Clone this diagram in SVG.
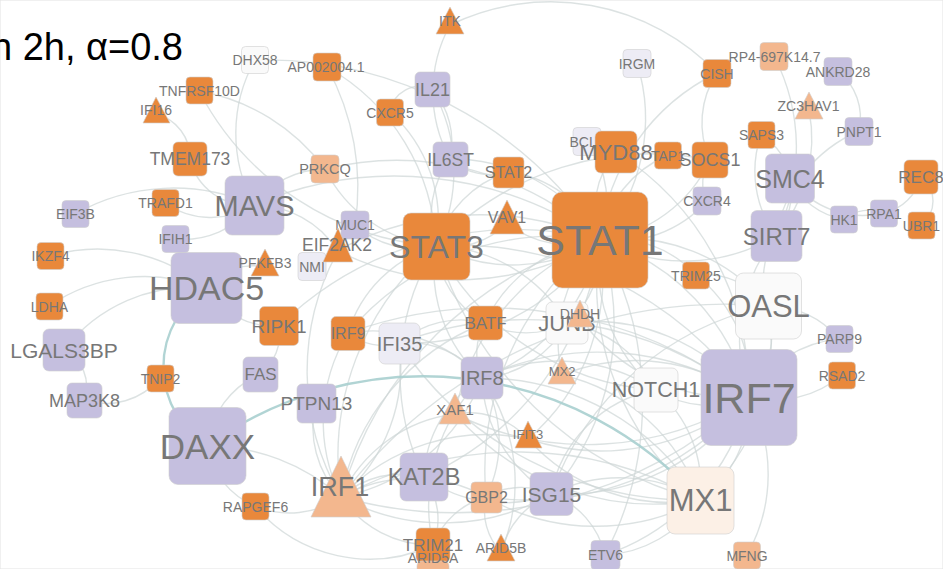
<svg xmlns="http://www.w3.org/2000/svg" width="943" height="569" viewBox="0 0 943 569">
<style>
.e path{fill:none;stroke:#cdd6d5;stroke-width:1.4;stroke-opacity:.7}
.e path.t{stroke:#a9cfcf;stroke-width:2.4;stroke-opacity:.9}
rect,polygon{stroke:#cfcfcf;stroke-width:1;stroke-opacity:.6}
.o{fill:#e9883b}.p{fill:#f3b78e}.l{fill:#c5bfdf}.ll{fill:#edecf5}.w{fill:#fafafa}.m{fill:#fcf0e6}
text{font-family:"Liberation Sans",Arial,Helvetica,sans-serif;fill:#777;text-anchor:middle;dominant-baseline:central}
#nodes{font-size:14px}
#title text{fill:#000;text-anchor:end;dominant-baseline:alphabetic;font-size:38px}
</style>
<rect x="0" y="0" width="943" height="569" fill="#fff" stroke="none"/>
<g id="title"><text x="183" y="60">n 2h, α=0.8</text></g>
<g id="edges" class="e">
<path d="M600 240A165 165 0 0 1 436 246"/><path d="M600 240A115 115 0 0 0 508 172"/><path d="M600 240A370 370 0 0 0 341 497"/><path d="M600 240A220 220 0 0 1 749 397"/><path d="M600 240A185 185 0 0 1 482 378"/><path d="M600 240A270 270 0 0 0 348 333"/><path d="M600 240A90 90 0 0 1 616 152"/><path d="M600 240A140 140 0 0 0 710 160"/><path d="M600 240A210 210 0 0 1 717 73"/><path d="M600 240A185 185 0 0 0 637 63"/><path d="M600 240A260 260 0 0 1 551 494"/><path d="M600 240A280 280 0 0 0 700 500"/><path d="M600 240A185 185 0 0 1 768 306"/><path d="M600 240A145 145 0 0 0 485 323"/><path d="M600 240A95 95 0 0 1 567 323"/><path d="M600 240A230 230 0 0 1 399 343"/><path d="M600 240A300 300 0 0 0 325 169"/><path d="M600 240A175 175 0 0 0 450 159"/><path d="M600 240A100 100 0 0 1 507 223"/><path d="M600 240A110 110 0 0 1 696 275"/><path d="M600 240A120 120 0 0 0 707 201"/><path d="M600 240A165 165 0 0 0 656 390"/><path d="M600 240A290 290 0 0 0 486 497"/><path d="M600 240A215 215 0 0 1 528 439"/><path d="M600 240A230 230 0 0 0 455 414"/><path d="M600 240A145 145 0 0 0 562 375"/><path d="M600 240A400 400 0 0 0 255 60"/><path d="M600 240A270 270 0 0 1 338 251"/><path d="M600 240A115 115 0 0 1 668 155"/><path d="M600 240A105 105 0 0 0 587 141"/><path d="M600 240A180 180 0 0 0 776 236"/><path d="M600 240A300 300 0 0 1 424 477"/><path d="M600 240A330 330 0 0 1 605 555"/>
<path d="M749 397A120 120 0 0 1 700 500"/><path d="M749 397A225 225 0 0 1 551 494"/><path d="M749 397A100 100 0 0 0 768 306"/><path d="M749 397A275 275 0 0 0 482 378"/><path d="M749 397A430 430 0 0 1 341 497"/><path d="M749 397A100 100 0 0 1 656 390"/><path d="M749 397A115 115 0 0 1 839 339"/><path d="M749 397A105 105 0 0 0 842 375"/><path d="M749 397A165 165 0 0 1 747 555"/><path d="M749 397A230 230 0 0 1 528 439"/><path d="M749 397A195 195 0 0 0 562 375"/><path d="M749 397A300 300 0 0 1 455 414"/><path d="M749 397A290 290 0 0 1 486 497"/><path d="M749 397A200 200 0 0 0 567 323"/><path d="M749 397A420 420 0 0 0 348 333"/><path d="M749 397A360 360 0 0 0 399 343"/><path d="M749 397A355 355 0 0 0 436 246"/><path d="M749 397A140 140 0 0 0 696 275"/><path d="M749 397A170 170 0 0 1 776 236"/><path d="M749 397A190 190 0 0 1 580 318"/><path d="M749 397A220 220 0 0 1 605 555"/>
<path d="M700 500A155 155 0 0 0 551 494"/><path d="M700 500A255 255 0 0 0 482 378"/><path d="M700 500A370 370 0 0 0 341 497"/><path d="M700 500A210 210 0 0 0 768 306"/><path d="M700 500A125 125 0 0 0 656 390"/><path d="M700 500A190 190 0 0 1 528 439"/><path d="M700 500A265 265 0 0 1 455 414"/><path d="M700 500A220 220 0 0 1 486 497"/><path d="M700 500A375 375 0 0 1 436 246"/><path d="M700 500A350 350 0 0 1 399 343"/><path d="M700 500A190 190 0 0 0 562 375"/>
<path d="M341 497A190 190 0 0 0 482 378"/><path d="M341 497A170 170 0 0 1 348 333"/><path d="M341 497A170 170 0 0 0 399 343"/><path d="M341 497A275 275 0 0 1 436 246"/><path d="M341 497A90 90 0 0 1 424 477"/><path d="M341 497A215 215 0 0 0 551 494"/><path d="M341 497A150 150 0 0 1 486 497"/><path d="M341 497A100 100 0 0 1 316 403"/><path d="M341 497A90 90 0 0 1 255 506"/><path d="M341 497A230 230 0 0 1 485 323"/><path d="M341 497A145 145 0 0 1 455 414"/><path d="M341 497A110 110 0 0 0 433 545"/><path d="M341 497A480 480 0 0 1 768 306"/><path d="M341 497A200 200 0 0 1 528 439"/>
<path d="M482 378A140 140 0 0 0 551 494"/><path d="M482 378A60 60 0 0 1 485 323"/><path d="M482 378A95 95 0 0 0 399 343"/><path d="M482 378A145 145 0 0 1 436 246"/><path d="M482 378A180 180 0 0 0 433 545"/><path d="M482 378A180 180 0 0 1 501 552"/><path d="M482 378A125 125 0 0 1 486 497"/><path d="M482 378A120 120 0 0 0 424 477"/><path d="M482 378A180 180 0 0 1 656 390"/><path d="M482 378A105 105 0 0 0 567 323"/>
<path d="M436 246A95 95 0 0 1 450 159"/><path d="M436 246A165 165 0 0 0 432 89"/><path d="M436 246A110 110 0 0 1 508 172"/><path d="M436 246A130 130 0 0 0 348 333"/><path d="M436 246A90 90 0 0 1 355 225"/><path d="M436 246A155 155 0 0 1 567 323"/><path d="M436 246A95 95 0 0 0 485 323"/><path d="M436 246A215 215 0 0 0 327 67"/><path d="M436 246A290 290 0 0 1 199 91"/><path d="M436 246A145 145 0 0 0 390 112"/><path d="M436 246A140 140 0 0 1 325 169"/><path d="M436 246A80 80 0 0 0 507 223"/><path d="M436 246A270 270 0 0 0 656 390"/><path d="M436 246A240 240 0 0 0 424 477"/><path d="M436 246A295 295 0 0 1 710 160"/>
<path d="M156 114A45 45 0 0 1 190 159"/><path d="M190 159A60 60 0 0 0 254 205"/><path d="M165 203A80 80 0 0 0 254 205"/><path d="M75 214A200 200 0 0 1 254 205"/><path d="M175 239A90 90 0 0 0 254 205"/><path d="M50 256A170 170 0 0 1 206 288"/><path d="M254 205A100 100 0 0 1 338 251"/><path d="M254 205A90 90 0 0 1 325 169"/><path d="M254 205A360 360 0 0 1 600 240"/><path d="M49 306A170 170 0 0 1 206 288"/><path d="M64 350A160 160 0 0 1 206 288"/><path d="M64 350A40 40 0 0 1 84 400"/><path d="M84 400A70 70 0 0 0 160 378"/><path d="M207 446A90 90 0 0 1 260 374"/><path d="M207 446A80 80 0 0 0 255 506"/><path d="M260 374A50 50 0 0 0 279 326"/><path d="M279 326A80 80 0 0 1 206 288"/><path d="M279 326A340 340 0 0 1 600 240"/><path d="M265 267A60 60 0 0 0 206 288"/><path d="M312 266A300 300 0 0 1 600 240"/><path d="M338 251A250 250 0 0 0 341 497"/><path d="M255 506A150 150 0 0 0 433 545"/><path d="M450 25A140 140 0 0 0 450 159"/><path d="M450 25A230 230 0 0 1 717 73"/><path d="M432 89A30 30 0 0 0 390 112"/><path d="M432 89A80 80 0 0 1 450 159"/>
<path d="M774 56A200 200 0 0 1 776 236"/><path d="M838 71A60 60 0 0 1 859 131"/><path d="M809 110A150 150 0 0 1 776 236"/><path d="M761 135A110 110 0 0 0 776 236"/><path d="M761 135A60 60 0 0 1 790 178"/><path d="M859 131A140 140 0 0 0 776 236"/><path d="M790 178A70 70 0 0 1 776 236"/><path d="M790 178A70 70 0 0 0 844 219"/><path d="M844 219A40 40 0 0 1 884 213"/><path d="M884 213A50 50 0 0 0 921 177"/><path d="M921 177A30 30 0 0 1 921 225"/><path d="M790 178A90 90 0 0 0 884 213"/><path d="M776 236A80 80 0 0 0 768 306"/><path d="M710 160A90 90 0 0 1 717 73"/><path d="M710 160A40 40 0 0 0 707 201"/><path d="M768 306A90 90 0 0 1 839 339"/><path d="M768 306A295 295 0 0 0 551 494"/><path d="M551 494A85 85 0 0 1 605 555"/><path d="M486 497A60 60 0 0 0 501 552"/><path d="M433 545A80 80 0 0 1 486 497"/><path d="M255 60A150 150 0 0 0 254 205"/><path d="M616 152A285 285 0 0 1 749 397"/><path d="M424 477A135 135 0 0 0 551 494"/><path d="M424 477A70 70 0 0 1 433 545"/><path d="M551 494A70 70 0 0 0 486 497"/><path d="M455 414A80 80 0 0 1 528 439"/><path d="M399 343A95 95 0 0 1 485 323"/><path d="M348 333A55 55 0 0 0 399 343"/><path d="M551 494A130 130 0 0 1 656 390"/><path d="M567 323A120 120 0 0 1 656 390"/><path d="M485 323A90 90 0 0 0 567 323"/><path d="M348 333A150 150 0 0 1 482 378"/><path d="M450 159A60 60 0 0 0 508 172"/><path d="M605 555A120 120 0 0 0 700 500"/><path d="M501 552A85 85 0 0 1 551 494"/><path d="M696 275A80 80 0 0 1 768 306"/><path d="M207 446A200 200 0 0 1 341 497"/><path d="M199 91A200 200 0 0 1 325 169"/><path d="M327 67A250 250 0 0 1 355 225"/>
<path class="t" d="M207 446A371 371 0 0 1 700 500"/><path class="t" d="M206 288A94 94 0 0 0 207 446"/>
</g>
<g id="nodes">
<g id="STAT1"><rect class="o" x="552" y="192" width="96" height="96" rx="10"/><text x="600" y="240" font-size="43">STAT1</text></g>
<g id="IRF7"><rect class="l" x="701" y="349.5" width="96" height="96" rx="10"/><text x="749" y="397.5" font-size="43">IRF7</text></g>
<g id="DAXX"><rect class="l" x="169" y="407.5" width="77" height="77" rx="9"/><text x="207.5" y="446" font-size="35">DAXX</text></g>
<g id="HDAC5"><rect class="l" x="171" y="252.5" width="71" height="71" rx="8"/><text x="206.5" y="288" font-size="34">HDAC5</text></g>
<g id="STAT3"><rect class="o" x="403" y="213" width="67" height="67" rx="8"/><text x="436.5" y="246.5" font-size="32">STAT3</text></g>
<g id="MX1"><rect class="m" x="667" y="467" width="67" height="67" rx="8"/><text x="700.5" y="500.5" font-size="31">MX1</text></g>
<g id="OASL"><rect class="w" x="735.5" y="273" width="66" height="66" rx="8"/><text x="768.5" y="306" font-size="31">OASL</text></g>
<g id="MAVS"><rect class="l" x="225" y="176" width="59" height="59" rx="7"/><text x="254.5" y="205.5" font-size="29">MAVS</text></g>
<g id="SIRT7"><rect class="l" x="751" y="210.5" width="51" height="51" rx="6"/><text x="776.5" y="236" font-size="24">SIRT7</text></g>
<g id="SMC4"><rect class="l" x="765.5" y="154" width="49" height="49" rx="6"/><text x="790" y="178.5" font-size="25">SMC4</text></g>
<g id="KAT2B"><rect class="l" x="400" y="453" width="48" height="48" rx="6"/><text x="424" y="477" font-size="23.5">KAT2B</text></g>
<g id="NOTCH1"><rect class="w" x="634" y="368" width="44" height="44" rx="6"/><text x="656" y="390" font-size="21.5">NOTCH1</text></g>
<g id="ISG15"><rect class="l" x="530" y="472.5" width="43" height="43" rx="6"/><text x="551.5" y="494" font-size="21">ISG15</text></g>
<g id="IRF8"><rect class="l" x="461" y="357" width="42" height="42" rx="6"/><text x="482" y="378" font-size="20">IRF8</text></g>
<g id="JUNB"><rect class="w" x="546" y="302" width="42" height="42" rx="6"/><text x="567" y="323" font-size="22">JUNB</text></g>
<g id="DHDH"><polygon class="p" points="580,300 567,327 593,327"/><text x="580" y="313.5">DHDH</text></g>
<g id="LGALS3BP"><rect class="l" x="43" y="329" width="42" height="42" rx="6"/><text x="64" y="350" font-size="21">LGALS3BP</text></g>
<g id="BCL3"><rect class="ll" x="573" y="127.5" width="28" height="28" rx="4"/><text x="587" y="141.5">BCL3</text></g>
<g id="MYD88"><rect class="o" x="595" y="131" width="42" height="42" rx="6"/><text x="616" y="152" font-size="22">MYD88</text></g>
<g id="IFI35"><rect class="ll" x="379" y="323" width="41" height="41" rx="6"/><text x="399.5" y="343.5" font-size="20">IFI35</text></g>
<g id="RIPK1"><rect class="o" x="259.5" y="306.5" width="39" height="39" rx="5"/><text x="279" y="326" font-size="19">RIPK1</text></g>
<g id="PTPN13"><rect class="l" x="297" y="384" width="39" height="39" rx="5"/><text x="316.5" y="403.5" font-size="19">PTPN13</text></g>
<g id="TAP1"><rect class="o" x="654.5" y="142" width="27" height="27" rx="4"/><text x="668" y="155.5">TAP1</text></g>
<g id="SOCS1"><rect class="o" x="692" y="142" width="36" height="36" rx="5"/><text x="710" y="160" font-size="18">SOCS1</text></g>
<g id="IL21"><rect class="l" x="415" y="72" width="35" height="35" rx="5"/><text x="432.5" y="89.5" font-size="18">IL21</text></g>
<g id="IL6ST"><rect class="l" x="433" y="142" width="35" height="35" rx="5"/><text x="450.5" y="159.5" font-size="17.5">IL6ST</text></g>
<g id="MAP3K8"><rect class="l" x="67" y="383" width="35" height="35" rx="5"/><text x="84.5" y="400.5" font-size="18">MAP3K8</text></g>
<g id="FAS"><rect class="l" x="243" y="357" width="35" height="35" rx="5"/><text x="260.5" y="374.5" font-size="17">FAS</text></g>
<g id="TMEM173"><rect class="o" x="173" y="142" width="34" height="34" rx="5"/><text x="190" y="159" font-size="17.5">TMEM173</text></g>
<g id="REC8"><rect class="o" x="904" y="160" width="34" height="34" rx="5"/><text x="921" y="177" font-size="17">REC8</text></g>
<g id="IRF9"><rect class="o" x="331" y="316.5" width="34" height="34" rx="5"/><text x="348" y="333.5" font-size="16">IRF9</text></g>
<g id="BATF"><rect class="o" x="468.5" y="306" width="34" height="34" rx="5"/><text x="485.5" y="323" font-size="17">BATF</text></g>
<g id="TRIM21"><rect class="o" x="416" y="528" width="34" height="34" rx="5"/><text x="433" y="545" font-size="17">TRIM21</text></g>
<g id="ARID5A"><rect class="p" x="417" y="561" width="32" height="32" rx="5"/><text x="433" y="558">ARID5A</text></g>
<g id="STAT2"><rect class="o" x="493" y="157" width="31" height="31" rx="4"/><text x="508.5" y="172.5" font-size="16">STAT2</text></g>
<g id="GBP2"><rect class="p" x="471" y="482" width="31" height="31" rx="4"/><text x="486.5" y="497.5" font-size="16">GBP2</text></g>
<g id="ETV6"><rect class="l" x="591" y="540.5" width="29" height="29" rx="4"/><text x="605.5" y="555">ETV6</text></g>
<g id="DHX58"><rect class="w" x="241.5" y="46.5" width="27" height="27" rx="4"/><text x="255" y="60">DHX58</text></g>
<g id="AP002004.1"><rect class="o" x="313" y="53" width="28" height="28" rx="4"/><text x="326" y="67">AP002004.1</text></g>
<g id="TNFRSF10D"><rect class="o" x="186" y="77" width="27" height="27" rx="4"/><text x="199.5" y="90.5">TNFRSF10D</text></g>
<g id="IFI16"><polygon class="o" points="156,97 143,123 170,123"/><text x="156" y="110">IFI16</text></g>
<g id="TRAFD1"><rect class="o" x="152" y="189.5" width="27" height="27" rx="4"/><text x="165.5" y="203">TRAFD1</text></g>
<g id="EIF3B"><rect class="l" x="62" y="200.5" width="27" height="27" rx="4"/><text x="75.5" y="214">EIF3B</text></g>
<g id="IFIH1"><rect class="l" x="162" y="225.5" width="27" height="27" rx="4"/><text x="175.5" y="239">IFIH1</text></g>
<g id="IKZF4"><rect class="o" x="37" y="242.5" width="27" height="27" rx="4"/><text x="50.5" y="256">IKZF4</text></g>
<g id="PFKFB3"><polygon class="o" points="265,249 251,276 279,276"/><text x="265" y="262.5">PFKFB3</text></g>
<g id="MUC1"><rect class="l" x="341" y="211" width="28" height="28" rx="4"/><text x="355" y="225">MUC1</text></g>
<g id="NMI"><rect class="ll" x="298" y="252.5" width="28" height="28" rx="4"/><text x="312" y="266.5">NMI</text></g>
<g id="EIF2AK2"><polygon class="o" points="338,228 323,262 353,262"/><text x="337" y="245" font-size="17.5">EIF2AK2</text></g>
<g id="ITK"><polygon class="o" points="450,7 436,34 464,34"/><text x="450" y="20.5">ITK</text></g>
<g id="CXCR5"><rect class="o" x="376.5" y="99" width="27" height="27" rx="4"/><text x="390" y="112.5">CXCR5</text></g>
<g id="PRKCQ"><rect class="p" x="311" y="155" width="28" height="28" rx="4"/><text x="325" y="169" font-size="14.5">PRKCQ</text></g>
<g id="VAV1"><polygon class="o" points="507,200 490,234 524,234"/><text x="507" y="217" font-size="16">VAV1</text></g>
<g id="CXCR4"><rect class="l" x="693" y="187" width="28" height="28" rx="4"/><text x="707" y="201">CXCR4</text></g>
<g id="TRIM25"><rect class="o" x="682.5" y="262" width="27" height="27" rx="4"/><text x="696" y="275.5">TRIM25</text></g>
<g id="IRGM"><rect class="ll" x="623" y="49.5" width="28" height="28" rx="4"/><text x="637" y="63.5">IRGM</text></g>
<g id="CISH"><rect class="o" x="703" y="59.5" width="28" height="28" rx="4"/><text x="717" y="73.5">CISH</text></g>
<g id="RP4-697K14.7"><rect class="p" x="760" y="42.5" width="28" height="28" rx="4"/><text x="774.5" y="57">RP4-697K14.7</text></g>
<g id="ANKRD28"><rect class="l" x="824" y="57.5" width="28" height="28" rx="4"/><text x="838" y="71.5">ANKRD28</text></g>
<g id="ZC3HAV1"><polygon class="p" points="809,92 795,119 823,119"/><text x="808.5" y="105.5">ZC3HAV1</text></g>
<g id="SAPS3"><rect class="o" x="748" y="121.5" width="27" height="27" rx="4"/><text x="761.5" y="135">SAPS3</text></g>
<g id="PNPT1"><rect class="l" x="845" y="117.5" width="28" height="28" rx="4"/><text x="859" y="131.5">PNPT1</text></g>
<g id="HK1"><rect class="l" x="830.5" y="206" width="27" height="27" rx="4"/><text x="844" y="219.5">HK1</text></g>
<g id="RPA1"><rect class="l" x="870.5" y="200" width="27" height="27" rx="4"/><text x="884" y="213.5">RPA1</text></g>
<g id="UBR1"><rect class="o" x="908" y="212" width="27" height="27" rx="4"/><text x="921.5" y="225.5">UBR1</text></g>
<g id="PARP9"><rect class="l" x="826" y="325.5" width="27" height="27" rx="4"/><text x="839.5" y="339">PARP9</text></g>
<g id="RSAD2"><rect class="o" x="828.5" y="362" width="27" height="27" rx="4"/><text x="842" y="375.5">RSAD2</text></g>
<g id="MFNG"><rect class="p" x="733.5" y="542" width="27" height="27" rx="4"/><text x="747" y="555.5">MFNG</text></g>
<g id="LDHA"><rect class="o" x="36" y="293" width="27" height="27" rx="4"/><text x="49.5" y="306.5">LDHA</text></g>
<g id="TNIP2"><rect class="o" x="147" y="365" width="27" height="27" rx="4"/><text x="160.5" y="378.5">TNIP2</text></g>
<g id="RAPGEF6"><rect class="o" x="242" y="493" width="27" height="27" rx="4"/><text x="255.5" y="506.5">RAPGEF6</text></g>
<g id="MX2"><polygon class="p" points="562,357 548,384 576,384"/><text x="562" y="371" font-size="13">MX2</text></g>
<g id="XAF1"><polygon class="p" points="455,393 439,424 471,424"/><text x="455" y="409" font-size="15">XAF1</text></g>
<g id="IFIT3"><polygon class="o" points="528,421 515,448 542,448"/><text x="528" y="434.5" font-size="13">IFIT3</text></g>
<g id="IRF1"><polygon class="p" points="341,456 311,517 371,517"/><text x="340" y="487" font-size="27">IRF1</text></g>
<g id="ARID5B"><polygon class="o" points="501,534 487,561 515,561"/><text x="501" y="548">ARID5B</text></g>
</g>
</svg>
